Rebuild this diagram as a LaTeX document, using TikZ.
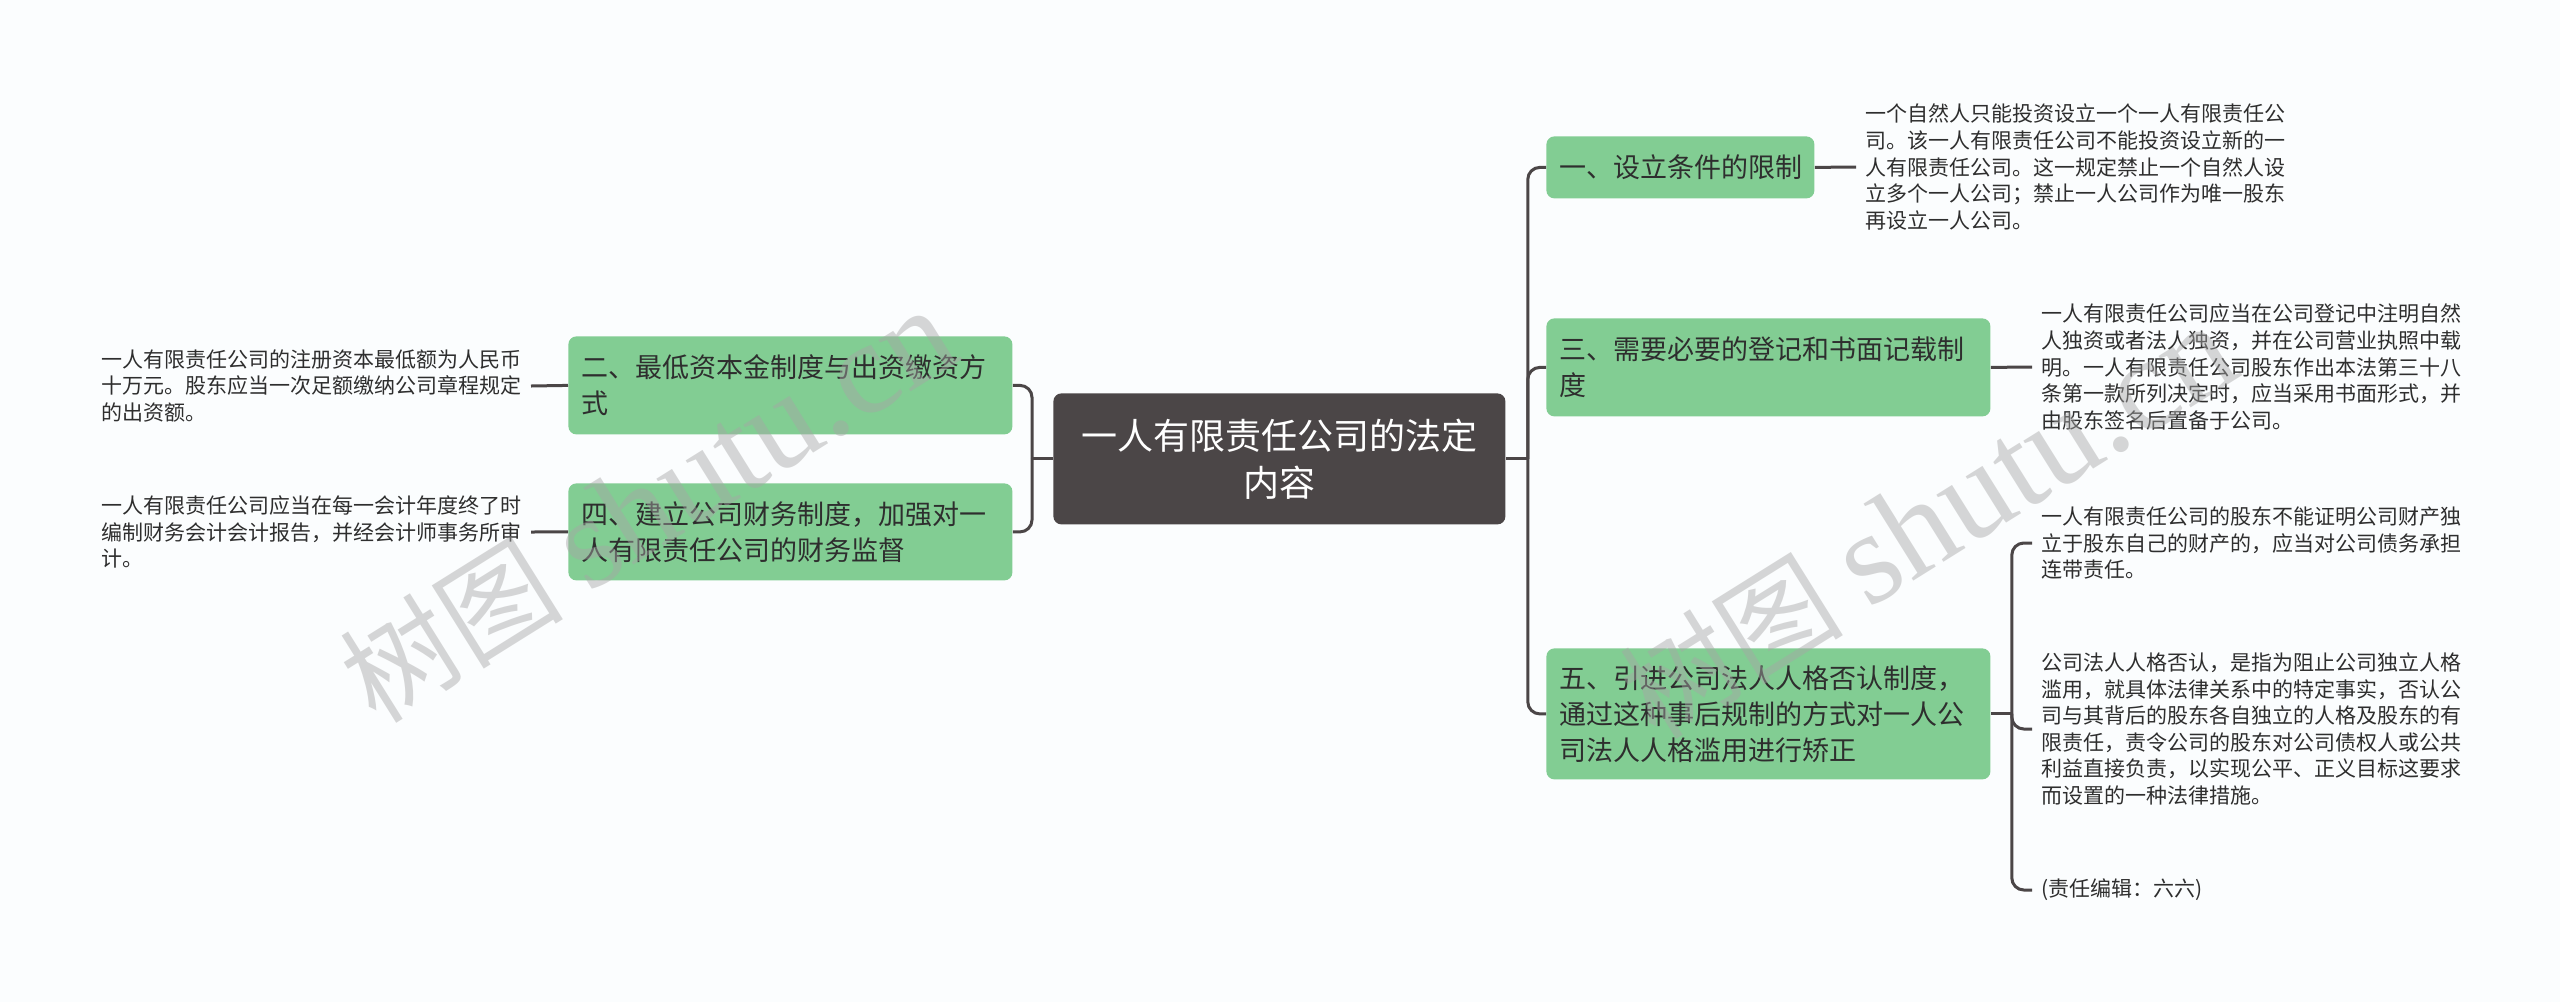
\documentclass[tikz,border=0pt]{standalone}
\usepackage{fontspec}
\setmainfont{Noto Sans CJK SC}
\newfontfamily\wmlatin{Liberation Serif}
\definecolor{bgc}{HTML}{FBFDFE}
\definecolor{gfill}{HTML}{82CD93}
\definecolor{cfill}{HTML}{4B4647}
\definecolor{lnk}{HTML}{4B4647}
\definecolor{txt}{HTML}{2E2E2E}
\begin{document}
\begin{tikzpicture}[x=0.5pt,y=-0.5pt,
  gbox/.style={fill=gfill, rounded corners=4pt, inner xsep=6.5pt, inner ysep=0pt,
    align=left, text=txt, anchor=north west, font=\fontsize{13.5pt}{18pt}\selectfont},
  cbox/.style={fill=cfill, rounded corners=4pt, inner sep=0pt, align=center,
    text=white, anchor=north west, font=\fontsize{18pt}{23.5pt}\selectfont},
  leaf/.style={inner xsep=4.5pt, inner ysep=0pt, align=left, text=txt,
    font=\fontsize{10.5pt}{13.3pt}\selectfont},
  conn/.style={draw=lnk, line width=1.5pt},
  rconn/.style={draw=lnk, line width=1.5pt, rounded corners=6pt},
  wm/.style={text=gray!70, text opacity=0.45, rotate=32, inner sep=0pt,
    font=\fontsize{56pt}{56pt}\selectfont}
]
\useasboundingbox[fill=bgc] (0,0) rectangle (2560,1002);

% central node
\node[cbox, minimum width=226pt, minimum height=65.5pt, text width=212pt] (c) at (1053,393)
  {一人有限责任公司的法定\\内容};

% right main branches
\node[gbox, minimum width=134pt, minimum height=31pt, text width=121pt] (n1) at (1546,136)
  {一、设立条件的限制};
\node[gbox, minimum width=222pt, minimum height=49pt, text width=209pt] (n2) at (1546,318)
  {三、需要必要的登记和书面记载制\\度};
\node[gbox, minimum width=222pt, minimum height=65.5pt, text width=209pt] (n3) at (1546,648)
  {五、引进公司法人人格否认制度，\\通过这种事后规制的方式对一人公\\司法人人格滥用进行矫正};

% left main branches
\node[gbox, minimum width=222pt, minimum height=49pt, text width=209pt] (n4) at (568,336)
  {二、最低资本金制度与出资缴资方\\式};
\node[gbox, minimum width=222pt, minimum height=48.5pt, text width=209pt] (n5) at (568,483)
  {四、建立公司财务制度，加强对一\\人有限责任公司的财务监督};

% leaves
\node[leaf, anchor=west] (l1) at (1856,167)
  {一个自然人只能投资设立一个一人有限责任公\\司。该一人有限责任公司不能投资设立新的一\\人有限责任公司。这一规定禁止一个自然人设\\立多个一人公司；禁止一人公司作为唯一股东\\再设立一人公司。};
\node[leaf, anchor=west] (l3) at (2032,367)
  {一人有限责任公司应当在公司登记中注明自然\\人独资或者法人独资，并在公司营业执照中载\\明。一人有限责任公司股东作出本法第三十八\\条第一款所列决定时，应当采用书面形式，并\\由股东签名后置备于公司。};
\node[leaf, anchor=west] (l5a) at (2032,543)
  {一人有限责任公司的股东不能证明公司财产独\\立于股东自己的财产的，应当对公司债务承担\\连带责任。};
\node[leaf, anchor=west] (l5b) at (2032,729)
  {公司法人人格否认，是指为阻止公司独立人格\\滥用，就具体法律关系中的特定事实，否认公\\司与其背后的股东各自独立的人格及股东的有\\限责任，责令公司的股东对公司债权人或公共\\利益直接负责，以实现公平、正义目标这要求\\而设置的一种法律措施。};
\node[leaf, anchor=west] (l5c) at (2032,890)
  {(责任编辑：六六)};
\node[leaf, anchor=east] (l2) at (531,386)
  {一人有限责任公司的注册资本最低额为人民币\\十万元。股东应当一次足额缴纳公司章程规定\\的出资额。};
\node[leaf, anchor=east] (l4) at (531,532)
  {一人有限责任公司应当在每一会计年度终了时\\编制财务会计会计报告，并经会计师事务所审\\计。};

% connectors
\path (c.east) ++(22,0) coordinate (tr);
\path (c.west) ++(-21,0) coordinate (tl);
\path (n3.east) ++(21,0) coordinate (t5);
\draw[conn] (c.east) -- (tr);
\draw[rconn] (tr) |- (n1.west);
\draw[rconn] (tr) |- (n2.west);
\draw[rconn] (tr) |- (n3.west);
\draw[conn] (c.west) -- (tl);
\draw[rconn] (tl) |- (n4.east);
\draw[rconn] (tl) |- (n5.east);
\draw[conn] (n1.east) -- (l1.west);
\draw[conn] (n2.east) -- (l3.west);
\draw[conn] (n3.east) -- (t5);
\draw[rconn] (t5) |- (l5a.west);
\draw[rconn] (t5) |- (l5b.west);
\draw[rconn] (t5) |- (l5c.west);
\draw[conn] (n4.west) -- (l2.east);
\draw[conn] (n5.west) -- (l4.east);

% watermarks
\node[wm] (w1) at (648,506) {树图 {\wmlatin\fontsize{66pt}{66pt}\selectfont shutu.cn}};
\node[wm] (w2) at (1928,522) {树图 {\wmlatin\fontsize{66pt}{66pt}\selectfont shutu.cn}};
\end{tikzpicture}
\end{document}
